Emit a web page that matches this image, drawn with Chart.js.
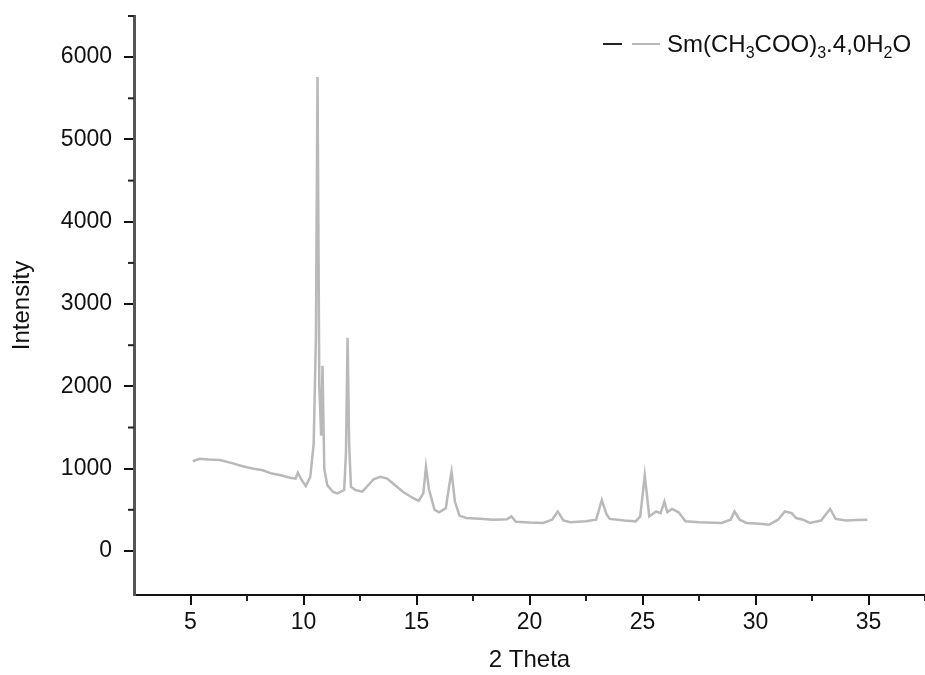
<!DOCTYPE html>
<html>
<head>
<meta charset="utf-8">
<script src="https://cdn.jsdelivr.net/npm/chart.js@4.4.1/dist/chart.umd.min.js"></script>
<style>
  html, body { margin: 0; padding: 0; background: #fff; }
  #wrap { width: 925px; height: 675px; }
</style>
</head>
<body>
<div id="wrap"><canvas id="xrdChart" width="925" height="675"></canvas></div>
<script>
  // diffraction pattern
  const twoTheta = [
    5.1, 5.4, 5.8, 6.3, 6.8, 7.3, 7.8, 8.2, 8.6, 9.0, 9.4, 9.65, 9.75, 9.9, 10.1, 10.3,
    10.45, 10.55, 10.62, 10.7, 10.78, 10.84, 10.92, 11.05, 11.3, 11.5, 11.8, 11.88, 11.95, 12.02,
    12.1, 12.3, 12.6, 12.8, 13.1, 13.4, 13.7, 14.0, 14.4, 14.8, 15.1, 15.3, 15.42, 15.55, 15.8,
    16.0, 16.3, 16.45, 16.55, 16.7, 16.9, 17.2, 17.8, 18.4, 19.0, 19.2, 19.4, 20.0, 20.6, 21.0,
    21.25, 21.5, 21.8, 22.5, 22.95, 23.2, 23.4, 23.55, 24.2, 24.7, 24.9, 25.1, 25.3, 25.6, 25.8,
    25.97, 26.1, 26.3, 26.6, 26.9, 27.5, 28.5, 28.9, 29.07, 29.3, 29.6, 30.2, 30.6, 31.0, 31.3,
    31.6, 31.8, 32.1, 32.4, 32.9, 33.3, 33.55, 34.0, 34.5, 34.95
  ];
  const intensity = [
    1090, 1120, 1110, 1105, 1070, 1030, 1000, 980, 940, 920, 890, 880, 950, 870, 790, 900,
    1300, 2600, 5760, 2000, 1400, 2250, 1000, 800, 720, 700, 740, 1200, 2590, 1300,
    780, 740, 720, 780, 870, 900, 880, 810, 720, 650, 610, 700, 1020, 750, 500,
    470, 520, 800, 960, 600, 430, 400, 390, 380, 385, 420, 355, 345, 340, 380,
    480, 370, 350, 360, 380, 620, 450, 390, 370, 360, 420, 920, 420, 480, 460,
    600, 470, 510, 470, 360, 350, 340, 380, 480, 380, 340, 330, 320, 380, 480,
    460, 400, 380, 340, 370, 510, 390, 370, 375, 380
  ];
  const seriesLabel = 'Sm(CH3COO)3.4,0H2O';
  const xTicks = [5, 10, 15, 20, 25, 30, 35];
  const xMinor = [7.5, 12.5, 17.5, 22.5, 27.5, 32.5, 37.5];
  const yTicks = [0, 1000, 2000, 3000, 4000, 5000, 6000];
  const yMinor = [500, 1500, 2500, 3500, 4500, 5500, 6500];

  const lineGrey = '#b9b9b9';
  const textColor = '#111';
  const fontFamily = '"Liberation Sans", Arial, sans-serif';

  // short ticks between the labelled ones
  const minorTicks = {
    id: 'minorTicks',
    afterDraw(chart) {
      const { ctx, scales: { x, y } } = chart;
      ctx.save();
      ctx.strokeStyle = '#222';
      ctx.lineWidth = 2;
      xMinor.forEach(v => {
        const px = x.getPixelForValue(v);
        ctx.beginPath();
        ctx.moveTo(px, x.top);
        ctx.lineTo(px, x.top + 6);
        ctx.stroke();
      });
      yMinor.forEach(v => {
        const py = y.getPixelForValue(v);
        ctx.beginPath();
        ctx.moveTo(y.right, py);
        ctx.lineTo(y.right - 6, py);
        ctx.stroke();
      });
      ctx.restore();
    }
  };

  // legend inside the plot, with subscripts
  const insideLegend = {
    id: 'insideLegend',
    afterDraw(chart) {
      const ctx = chart.ctx;
      const yMid = 44;
      ctx.save();
      ctx.lineWidth = 2;
      ctx.strokeStyle = '#222';
      ctx.beginPath(); ctx.moveTo(603, yMid); ctx.lineTo(622, yMid); ctx.stroke();
      ctx.strokeStyle = lineGrey;
      ctx.beginPath(); ctx.moveTo(632, yMid); ctx.lineTo(660, yMid); ctx.stroke();
      const parts = [['Sm(CH', 0], ['3', 1], ['COO)', 0], ['3', 1], ['.4,0H', 0], ['2', 1], ['O', 0]];
      let tx = 667;
      ctx.fillStyle = textColor;
      ctx.textBaseline = 'alphabetic';
      parts.forEach(([t, sub]) => {
        ctx.font = (sub ? '16px ' : '24px ') + fontFamily;
        ctx.fillText(t, tx, sub ? yMid + 14 : yMid + 8);
        tx += ctx.measureText(t).width;
      });
      ctx.restore();
    }
  };

  const points = twoTheta.map((t, i) => ({ x: t, y: intensity[i] }));

  const config = {
    type: 'line',
    data: {
      datasets: [{
        label: seriesLabel,
        data: points,
        borderColor: lineGrey,
        borderWidth: 2.5,
        pointRadius: 0,
        tension: 0,
        fill: false
      }]
    },
    options: {
      responsive: false,
      animation: false,
      layout: { padding: { top: 16, right: 0, left: 0, bottom: 0 } },
      plugins: {
        legend: { display: false },
        tooltip: { enabled: false }
      },
      scales: {
        x: {
          type: 'linear',
          min: 2.5,
          max: 37.5,
          afterBuildTicks: (scale) => { scale.ticks = xTicks.map(v => ({ value: v })); },
          afterFit: (scale) => { scale.height = 80; scale.paddingLeft = 0; scale.paddingRight = 0; },
          border: { display: true, color: '#111', width: 2 },
          grid: { display: true, drawOnChartArea: false, drawTicks: true, tickLength: 10, color: '#111', lineWidth: 2 },
          ticks: {
            color: textColor,
            padding: 4,
            maxRotation: 0,
            font: { family: fontFamily, size: 23 }
          },
          title: {
            display: true,
            text: '2 Theta',
            color: textColor,
            padding: { top: 2, bottom: 0 },
            font: { family: fontFamily, size: 24 }
          }
        },
        y: {
          min: -535,
          max: 6500,
          afterBuildTicks: (scale) => { scale.ticks = yTicks.map(v => ({ value: v })); },
          afterFit: (scale) => { scale.width = 134; scale.paddingTop = 0; scale.paddingBottom = 0; },
          border: { display: true, color: '#555', width: 3 },
          grid: { display: true, drawOnChartArea: false, drawTicks: true, tickLength: 10, color: '#111', lineWidth: 2 },
          ticks: {
            color: textColor,
            padding: 12,
            font: { family: fontFamily, size: 23 },
            callback: (value) => String(value)
          },
          title: {
            display: true,
            text: 'Intensity',
            color: textColor,
            padding: { top: 8, bottom: 0 },
            font: { family: fontFamily, size: 24 }
          }
        }
      }
    },
    plugins: [minorTicks, insideLegend]
  };

  window.addEventListener('DOMContentLoaded', function () {
    const ctx = document.getElementById('xrdChart').getContext('2d');
    new Chart(ctx, config);
  });
</script>
</body>
</html>
